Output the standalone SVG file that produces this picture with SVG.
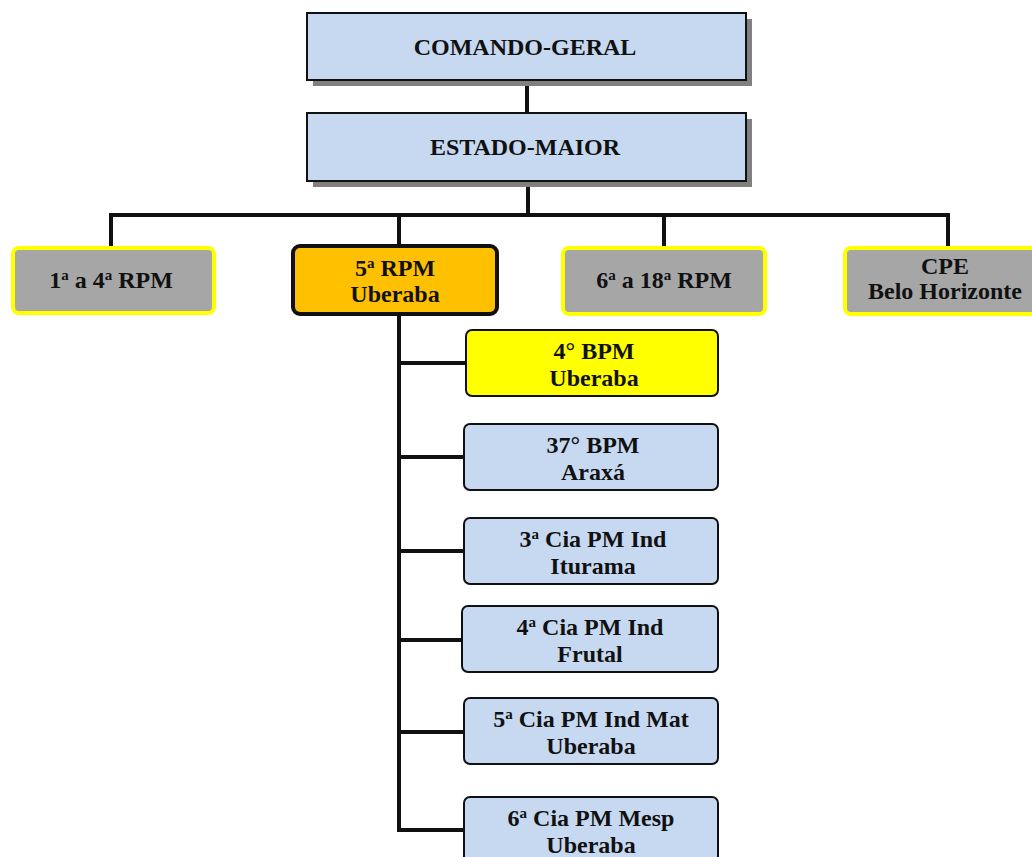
<svg xmlns="http://www.w3.org/2000/svg" width="1032" height="857" viewBox="0 0 1032 857">
<style>
text{font-family:"Liberation Serif","Times New Roman",serif;font-weight:bold;font-size:24px;fill:#111;text-anchor:middle}
.sup{font-size:15px}
.top{fill:#c6d9f1;stroke:#111;stroke-width:2}
.shadow{fill:#808080}
.gray{fill:#a6a6a6;stroke:#ffff00;stroke-width:4}
.child{fill:#c6d9f1;stroke:#111;stroke-width:2}
.conn{stroke:#111;stroke-width:4;fill:none}
</style>
<rect width="1032" height="857" fill="#fff"/>
<g id="connectors">
<line class="conn" x1="527" y1="80" x2="527" y2="113"/>
<line class="conn" x1="528" y1="181" x2="528" y2="215"/>
<polyline class="conn" points="111,248 111,215 948,215 948,248"/>
<line class="conn" x1="399" y1="215" x2="399" y2="246"/>
<line class="conn" x1="664" y1="215" x2="664" y2="248"/>
<polyline class="conn" points="399,314 399,830 464,830"/>
<line class="conn" x1="399" y1="363" x2="466" y2="363"/>
<line class="conn" x1="399" y1="457" x2="464" y2="457"/>
<line class="conn" x1="399" y1="551" x2="464" y2="551"/>
<line class="conn" x1="399" y1="640" x2="462" y2="640"/>
<line class="conn" x1="399" y1="732" x2="464" y2="732"/>
</g>
<g id="comando-geral">
<rect class="shadow" x="313" y="19" width="439" height="67"/>
<rect class="top" x="307" y="13" width="439" height="67"/>
<text x="525" y="55">COMANDO-GERAL</text>
</g>
<g id="estado-maior">
<rect class="shadow" x="313" y="119" width="439" height="68"/>
<rect class="top" x="307" y="113" width="439" height="68"/>
<text x="525" y="155">ESTADO-MAIOR</text>
</g>
<g id="rpm1-4">
<rect class="gray" x="13" y="248" width="201" height="65" rx="6"/>
<text x="111" y="288">1<tspan class="sup" dy="-8">a</tspan><tspan dy="8"> a 4</tspan><tspan class="sup" dy="-8">a</tspan><tspan dy="8"> RPM</tspan></text>
</g>
<g id="rpm5">
<rect x="293" y="246" width="204" height="68" rx="7" fill="#ffc000" stroke="#111" stroke-width="4"/>
<text x="395" y="276">5<tspan class="sup" dy="-8">a</tspan><tspan dy="8"> RPM</tspan></text>
<text x="395" y="302">Uberaba</text>
</g>
<g id="rpm6-18">
<rect class="gray" x="563" y="248" width="202" height="66" rx="6"/>
<text x="664" y="288">6<tspan class="sup" dy="-8">a</tspan><tspan dy="8"> a 18</tspan><tspan class="sup" dy="-8">a</tspan><tspan dy="8"> RPM</tspan></text>
</g>
<g id="cpe">
<rect class="gray" x="845" y="248" width="202" height="66" rx="6"/>
<text x="945" y="274">CPE</text>
<text x="945" y="299">Belo Horizonte</text>
</g>
<g id="bpm4">
<rect x="466" y="330" width="252" height="66" rx="6" fill="#ffff00" stroke="#111" stroke-width="2"/>
<text x="594" y="359">4° BPM</text>
<text x="594" y="386">Uberaba</text>
</g>
<g id="bpm37">
<rect class="child" x="464" y="424" width="254" height="66" rx="6"/>
<text x="593" y="453">37° BPM</text>
<text x="593" y="480">Araxá</text>
</g>
<g id="cia3">
<rect class="child" x="464" y="518" width="254" height="66" rx="6"/>
<text x="593" y="547">3<tspan class="sup" dy="-8">a</tspan><tspan dy="8"> Cia PM Ind</tspan></text>
<text x="593" y="574">Iturama</text>
</g>
<g id="cia4">
<rect class="child" x="462" y="606" width="256" height="66" rx="6"/>
<text x="590" y="635">4<tspan class="sup" dy="-8">a</tspan><tspan dy="8"> Cia PM Ind</tspan></text>
<text x="590" y="662">Frutal</text>
</g>
<g id="cia5">
<rect class="child" x="464" y="698" width="254" height="66" rx="6"/>
<text x="591" y="727">5<tspan class="sup" dy="-8">a</tspan><tspan dy="8"> Cia PM Ind Mat</tspan></text>
<text x="591" y="754">Uberaba</text>
</g>
<g id="cia6">
<rect class="child" x="464" y="797" width="254" height="70" rx="6"/>
<text x="591" y="826">6<tspan class="sup" dy="-8">a</tspan><tspan dy="8"> Cia PM Mesp</tspan></text>
<text x="591" y="853">Uberaba</text>
</g>
</svg>
